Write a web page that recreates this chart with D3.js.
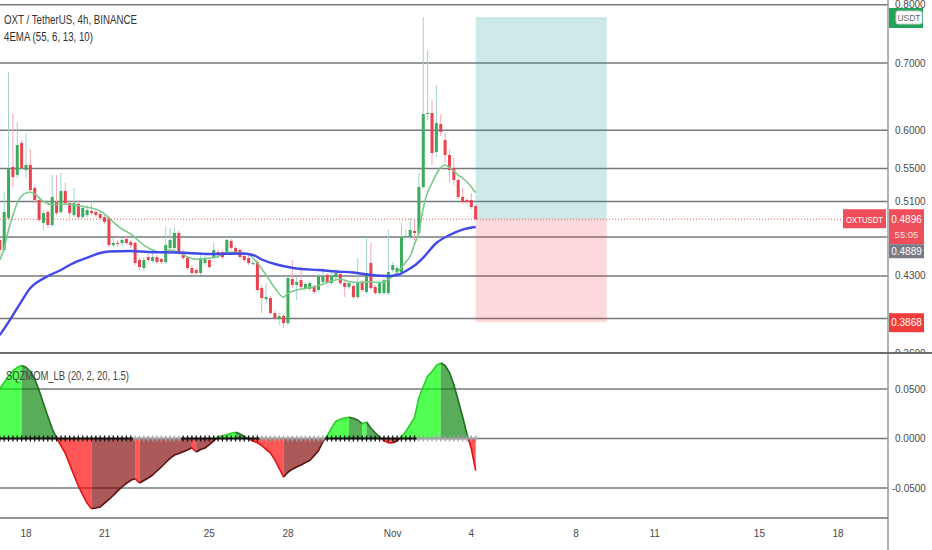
<!DOCTYPE html>
<html>
<head>
<meta charset="utf-8">
<script src="https://cdn.jsdelivr.net/npm/d3@7"></script>
<style>
  html, body { margin: 0; padding: 0; background: #fff; overflow: hidden; }
  svg { display: block; font-family: "Liberation Sans", Arial, sans-serif; }
</style>
</head>
<body>
<svg id="chart" width="932" height="550"></svg>
<script>
// OXT / USDT 4h candles, first bar Oct 17 00:00 UTC
const candleOpen = [0.4669,0.4563,0.4909,0.5518,0.5417,0.5829,0.5480,0.5543,0.5259,0.5116,
  0.4854,0.4977,0.4832,0.5093,0.4977,0.5223,0.5081,0.4943,0.5070,0.4920,
  0.4943,0.4989,0.4977,0.4954,0.4920,0.4909,0.4615,0.4637,0.4637,0.4679,
  0.4648,0.4637,0.4460,0.4379,0.4490,0.4450,0.4490,0.4470,0.4439,0.4584,
  0.4584,0.4744,0.4532,0.4480,0.4379,0.4359,0.4329,0.4429,0.4460,0.4490,
  0.4542,0.4542,0.4532,0.4658,0.4584,0.4563,0.4501,0.4480,0.4419,0.4439,
  0.4183,0.4078,0.4088,0.3950,0.3896,0.3923,0.3860,0.4270,0.4212,0.4260,
  0.4174,0.4174,0.4193,0.4164,0.4241,0.4309,0.4231,0.4289,0.4319,0.4231,
  0.4193,0.4203,0.4097,0.4241,0.4145,0.4429,0.4193,0.4135,0.4135,0.4135,
  0.4359,0.4339,0.4339,0.4701,0.4701,0.4766,0.4744,0.5271,0.6229,0.6243,
  0.5710,0.6088,0.5869,0.5671,0.5505,0.5356,0.5152,0.5116,0.5116,0.5046];
const candleHigh = [0.4711,0.5211,0.6857,0.6229,0.6116,0.5869,0.5951,0.5749,0.5283,0.5140,
  0.5000,0.5000,0.5417,0.5417,0.5442,0.5319,0.5116,0.5259,0.5116,0.5058,
  0.5058,0.5081,0.5012,0.4977,0.4943,0.4932,0.4690,0.4669,0.4690,0.4701,
  0.4669,0.4658,0.4480,0.4490,0.4521,0.4542,0.4511,0.4490,0.4810,0.4799,
  0.4810,0.4766,0.4563,0.4501,0.4409,0.4379,0.4511,0.4501,0.4480,0.4637,
  0.4573,0.4563,0.4711,0.4679,0.4605,0.4584,0.4521,0.4501,0.4450,0.4460,
  0.4212,0.4231,0.4107,0.3968,0.3950,0.3941,0.4299,0.4460,0.4289,0.4389,
  0.4241,0.4250,0.4212,0.4319,0.4379,0.4329,0.4339,0.4369,0.4339,0.4250,
  0.4250,0.4222,0.4480,0.4260,0.4701,0.4637,0.4212,0.4260,0.4280,0.4777,
  0.4439,0.4409,0.4854,0.4777,0.4909,0.4909,0.5442,0.7777,0.7211,0.6432,
  0.6656,0.6229,0.5964,0.5736,0.5633,0.5380,0.5259,0.5140,0.5199,0.5070];
const candleLow = [0.4501,0.4542,0.4880,0.5271,0.5380,0.5480,0.5380,0.5211,0.5093,0.4865,
  0.4777,0.4799,0.4810,0.4943,0.4954,0.5058,0.4920,0.4920,0.4898,0.4898,
  0.4920,0.4943,0.4920,0.4887,0.4843,0.4594,0.4594,0.4594,0.4605,0.4615,
  0.4584,0.4409,0.4359,0.4349,0.4439,0.4429,0.4419,0.4419,0.4419,0.4563,
  0.4563,0.4511,0.4460,0.4359,0.4309,0.4300,0.4309,0.4399,0.4369,0.4470,
  0.4480,0.4470,0.4511,0.4563,0.4511,0.4470,0.4439,0.4409,0.4399,0.4145,
  0.3950,0.4041,0.3932,0.3887,0.3843,0.3817,0.3843,0.4183,0.4069,0.4174,
  0.4155,0.4155,0.4126,0.4145,0.4222,0.4222,0.4212,0.4270,0.4212,0.4097,
  0.4174,0.4078,0.4078,0.4145,0.4126,0.4164,0.4116,0.4116,0.4116,0.4116,
  0.4339,0.4319,0.4319,0.4679,0.4679,0.4669,0.4722,0.5247,0.6144,0.5543,
  0.5645,0.5924,0.5569,0.5319,0.5295,0.5128,0.5070,0.5070,0.5012,0.4887];
const candleClose = [0.4563,0.4977,0.5505,0.5392,0.5802,0.5505,0.5543,0.5235,0.5116,0.4887,
  0.4966,0.4832,0.5152,0.4966,0.5223,0.5081,0.4966,0.5081,0.4920,0.5023,
  0.5000,0.4966,0.4943,0.4909,0.4865,0.4615,0.4637,0.4626,0.4669,0.4637,
  0.4615,0.4429,0.4389,0.4460,0.4460,0.4490,0.4439,0.4439,0.4615,0.4669,
  0.4744,0.4532,0.4480,0.4379,0.4329,0.4329,0.4480,0.4470,0.4389,0.4563,
  0.4511,0.4490,0.4669,0.4584,0.4532,0.4490,0.4460,0.4429,0.4429,0.4164,
  0.4088,0.4097,0.3950,0.3905,0.3923,0.3860,0.4280,0.4212,0.4241,0.4193,
  0.4222,0.4231,0.4145,0.4299,0.4299,0.4241,0.4299,0.4329,0.4231,0.4193,
  0.4231,0.4097,0.4241,0.4164,0.4329,0.4183,0.4135,0.4241,0.4260,0.4339,
  0.4409,0.4379,0.4701,0.4711,0.4777,0.4744,0.5271,0.6229,0.6243,0.5697,
  0.6102,0.5978,0.5671,0.5480,0.5356,0.5152,0.5093,0.5093,0.5035,0.4896];

// EMA lines (bar index, value)
const emaSlowIdx = [0,2,5,7,9,11,14,16,18,21,23,25,30,34,41,48,55,58,60,63,66,69,73,77,81,85,89,91,93,95,97,100,103,106,109];
const emaSlowVal = [0.3756,0.3869,0.4060,0.4183,0.4250,0.4299,0.4359,0.4409,0.4450,0.4501,
  0.4532,0.4547,0.4553,0.4542,0.4537,0.4521,0.4526,0.4511,0.4465,0.4419,
  0.4389,0.4369,0.4359,0.4344,0.4334,0.4309,0.4299,0.4309,0.4349,0.4404,
  0.4485,0.4637,0.4722,0.4782,0.4810];
const emaFastIdx = [0,1,2,3,4,5,6,7,8,10,12,15,19,23,24,26,28,30,33,35,37,39,41,43,45,47,50,
  52,55,57,59,61,63,65,66,68,70,73,75,78,80,82,85,87,89,91,93,94,95,96,97,98,99,100,
  101,102,103,104,105,106,107,108,109];
const emaFastVal = [0.4460,0.4584,0.4777,0.4943,0.5081,0.5164,0.5199,0.5207,0.5187,
  0.5099,0.5064,0.5070,0.5040,0.4989,0.4954,0.4865,0.4788,0.4733,
  0.4615,0.4563,0.4537,0.4563,0.4537,0.4490,0.4467,0.4475,0.4494,
  0.4542,0.4535,0.4516,0.4429,0.4309,0.4183,0.4097,0.4132,0.4164,
  0.4178,0.4207,0.4236,0.4267,0.4245,0.4236,0.4243,0.4234,0.4265,
  0.4334,0.4439,0.4501,0.4626,0.4755,0.5023,0.5211,0.5319,0.5430,
  0.5511,0.5543,0.5511,0.5467,0.5417,0.5380,0.5331,0.5271,0.5203];

// squeeze momentum value per bar
const momentum = [0.0502,0.0568,0.0631,0.0685,0.0718,0.0737,0.0720,0.0677,0.0601,0.0488,
  0.0354,0.0224,0.0101,0.0005,-0.0071,-0.0149,-0.0263,-0.0374,-0.0480,-0.0569,
  -0.0652,-0.0710,-0.0702,-0.0692,-0.0652,-0.0616,-0.0576,-0.0529,-0.0490,-0.0453,
  -0.0422,-0.0407,-0.0449,-0.0424,-0.0399,-0.0369,-0.0328,-0.0288,-0.0242,-0.0200,
  -0.0167,-0.0152,-0.0133,-0.0116,-0.0094,-0.0136,-0.0111,-0.0096,-0.0061,-0.0025,
  0.0017,0.0027,0.0038,0.0053,0.0063,0.0047,0.0020,-0.0006,-0.0026,-0.0043,
  -0.0071,-0.0109,-0.0148,-0.0215,-0.0303,-0.0389,-0.0341,-0.0310,-0.0288,-0.0267,
  -0.0244,-0.0222,-0.0175,-0.0124,-0.0033,0.0027,0.0108,0.0175,0.0194,0.0207,
  0.0214,0.0205,0.0187,0.0149,0.0167,0.0103,0.0058,0.0015,-0.0023,-0.0043,
  -0.0044,-0.0025,0.0020,0.0071,0.0141,0.0212,0.0414,0.0525,0.0631,0.0677,
  0.0737,0.0763,0.0737,0.0667,0.0545,0.0384,0.0222,0.0045,-0.0101,-0.0323];
// squeeze on/off runs (number of bars, on?)
const squeezeRuns = [[31, true], [11, false], [18, true], [15, false], [21, true], [14, false]];

const priceTicks = [0.80, 0.70, 0.60, 0.55, 0.51, 0.47, 0.43, 0.39, 0.36];
// labels at 0.47 and 0.39 sit under the price badges
const priceLabels = [0.80, 0.70, 0.60, 0.55, 0.51, 0.43, 0.36];
const momTicks = [0.05, 0, -0.05];
const timeTicks = [[2021,9,18],[2021,9,21],[2021,9,25],[2021,9,28],[2021,10,1],
  [2021,10,4],[2021,10,8],[2021,10,11],[2021,10,15],[2021,10,18]];

// position tool: target / entry / stop
const posTarget = 0.7760, posEntry = 0.4896, posStop = 0.3868;
const lastPrice = 0.4896, emaLabel = 0.4889;

// ---------------------------------------------------------------
const W = 932, H = 550, axisX = 888;
const mainBottom = 353, momTop = 354, momBottom = 518;
const gridColor = "#75787f", textColor = "#4a4a4a";

const BAR = 4 * 3600e3;
const t0 = Date.UTC(2021, 9, 17);
const barDate = i => new Date(t0 + i * BAR);

const x = d3.scaleUtc()
  .domain([Date.UTC(2021, 9, 18), Date.UTC(2021, 10, 4)])
  .range([26, 471.3]);
const y = d3.scaleLog().domain([0.80, 0.36]).range([4.65, 353.6]);
const ym = d3.scaleLinear().domain([-0.05, 0.05]).range([488, 389]);

const svg = d3.select("#chart");
const defs = svg.append("defs");
defs.append("clipPath").attr("id", "clip-main")
  .append("rect").attr("x", 0).attr("y", 0).attr("width", axisX).attr("height", mainBottom - 1);
defs.append("clipPath").attr("id", "clip-mom")
  .append("rect").attr("x", 0).attr("y", momTop).attr("width", axisX).attr("height", momBottom - momTop);
defs.append("clipPath").attr("id", "clip-axis")
  .append("rect").attr("x", axisX).attr("y", 0).attr("width", W - axisX).attr("height", mainBottom - 1);

svg.append("rect").attr("width", W).attr("height", H).attr("fill", "#fff");

// grid
const main = svg.append("g").attr("clip-path", "url(#clip-main)");
main.selectAll(".grid").data(priceTicks).enter().append("line")
  .attr("x1", 0).attr("x2", axisX)
  .attr("y1", d => y(d)).attr("y2", d => y(d))
  .attr("stroke", gridColor).attr("stroke-width", 1.5);

const mom = svg.append("g").attr("clip-path", "url(#clip-mom)");
mom.selectAll(".grid").data(momTicks).enter().append("line")
  .attr("x1", 0).attr("x2", axisX)
  .attr("y1", d => ym(d)).attr("y2", d => ym(d))
  .attr("stroke", gridColor).attr("stroke-width", 1.5);

// position box
const xa = x(barDate(109)), xb = x(new Date(barDate(109).getTime() + 30 * BAR));
main.append("rect")
  .attr("x", xa).attr("width", xb - xa)
  .attr("y", y(posTarget)).attr("height", y(posEntry) - y(posTarget))
  .attr("fill", "#26a69a").attr("fill-opacity", 0.23);
main.append("line")
  .attr("x1", xa).attr("x2", xb).attr("y1", y(posTarget)).attr("y2", y(posTarget))
  .attr("stroke", "#26a69a").attr("stroke-opacity", 0.25);
main.append("rect")
  .attr("x", xa).attr("width", xb - xa)
  .attr("y", y(posEntry)).attr("height", y(posStop) - y(posEntry))
  .attr("fill", "#f23645").attr("fill-opacity", 0.19);

// last price dotted line
main.append("line")
  .attr("x1", 0).attr("x2", 843)
  .attr("y1", y(lastPrice)).attr("y2", y(lastPrice))
  .attr("stroke", "#ef5350").attr("stroke-width", 1).attr("stroke-dasharray", "1,2");

// candles
const bars = d3.range(candleOpen.length).map(i => ({
  t: barDate(i), o: candleOpen[i], h: candleHigh[i], l: candleLow[i], c: candleClose[i]
}));
const candle = main.append("g").selectAll("g").data(bars).enter().append("g");
candle.append("line")
  .attr("x1", d => x(d.t)).attr("x2", d => x(d.t))
  .attr("y1", d => y(d.h)).attr("y2", d => y(d.l))
  .attr("stroke", d => d.c >= d.o ? "#a3d3ce" : "#f4a8b0").attr("stroke-width", 1);
candle.append("rect")
  .attr("x", d => x(d.t) - 1.5).attr("width", 3)
  .attr("y", d => y(Math.max(d.o, d.c)))
  .attr("height", d => Math.max(1, y(Math.min(d.o, d.c)) - y(Math.max(d.o, d.c))))
  .attr("fill", d => d.c >= d.o ? "#3dab5c" : "#ea4350");

// EMA lines
const emaLine = d3.line().curve(d3.curveMonotoneX).x(d => x(barDate(d[0]))).y(d => y(d[1]));
main.append("path")
  .datum(emaFastIdx.map((k, i) => [k, emaFastVal[i]]))
  .attr("d", emaLine).attr("fill", "none")
  .attr("stroke", "#7cc98c").attr("stroke-width", 1.6);
main.append("path")
  .datum(emaSlowIdx.map((k, i) => [k, emaSlowVal[i]]))
  .attr("d", emaLine).attr("fill", "none")
  .attr("stroke", "#4149e8").attr("stroke-width", 2.4);

// squeeze momentum area, coloured per segment
const fills = { lime: "rgba(0,255,0,0.68)", green: "rgba(0,128,0,0.65)", red: "rgba(255,0,0,0.66)", maroon: "rgba(128,0,0,0.65)" };
const edges = { lime: "#2ccc2c", green: "#1f6f1f", red: "#e01313", maroon: "#5e0e0e" };
const mx = i => x(barDate(i));
const pieces = [];
for (let i = 1; i < momentum.length; i++) {
  const v0 = momentum[i - 1], v1 = momentum[i];
  const rising = v1 > v0;
  const cPos = rising ? "lime" : "green", cNeg = rising ? "maroon" : "red";
  const x0 = mx(i - 1), x1 = mx(i);
  if ((v0 >= 0) === (v1 >= 0)) {
    pieces.push({ a: [x0, v0], b: [x1, v1], c: v1 >= 0 ? cPos : cNeg });
  } else {
    const xc = x0 + (x1 - x0) * (v0 / (v0 - v1));
    pieces.push({ a: [x0, v0], b: [xc, 0], c: v0 >= 0 ? cPos : cNeg });
    pieces.push({ a: [xc, 0], b: [x1, v1], c: v1 >= 0 ? cPos : cNeg });
  }
}
// join neighbouring pieces of one colour so the fill has no seams
const runs = [];
pieces.forEach(p => {
  const last = runs[runs.length - 1];
  if (last && last.c === p.c) last.pts.push(p.b);
  else runs.push({ c: p.c, pts: [p.a, p.b] });
});
mom.append("g").selectAll("path").data(runs).enter().append("path")
  .attr("d", d => {
    const top = d.pts.map(p => `${p[0]},${ym(p[1])}`).join("L");
    return `M${d.pts[0][0]},${ym(0)}L${top}L${d.pts[d.pts.length - 1][0]},${ym(0)}Z`;
  })
  .attr("fill", d => fills[d.c]);
mom.append("g").selectAll("path").data(runs).enter().append("path")
  .attr("d", d => "M" + d.pts.map(p => `${p[0]},${ym(p[1])}`).join("L"))
  .attr("fill", "none")
  .attr("stroke", d => edges[d.c]).attr("stroke-width", 1.6).attr("stroke-linejoin", "round");

// squeeze crosses on the zero line
const squeeze = [];
squeezeRuns.forEach(([n, on]) => { for (let k = 0; k < n; k++) squeeze.push(on); });
const cross = mom.append("g").selectAll("g").data(squeeze).enter().append("g")
  .attr("stroke", d => d ? "#111" : "#a3a3a3");
cross.append("line")
  .attr("x1", (d, i) => mx(i) - 2.2).attr("x2", (d, i) => mx(i) + 2.2)
  .attr("y1", ym(0)).attr("y2", ym(0)).attr("stroke-width", 2);
cross.append("line")
  .attr("x1", (d, i) => mx(i)).attr("x2", (d, i) => mx(i))
  .attr("y1", ym(0) - 3).attr("y2", ym(0) + 3).attr("stroke-width", 1.3);

// frame lines
svg.append("line").attr("x1", axisX).attr("x2", axisX).attr("y1", 0).attr("y2", H)
  .attr("stroke", "#9a9a9a").attr("stroke-width", 1.5);
svg.append("line").attr("x1", 0).attr("x2", W).attr("y1", mainBottom).attr("y2", mainBottom)
  .attr("stroke", "#6f6f6f").attr("stroke-width", 2);
svg.append("line").attr("x1", 0).attr("x2", axisX).attr("y1", momBottom).attr("y2", momBottom)
  .attr("stroke", "#6f6f6f").attr("stroke-width", 1.5);

// price axis labels
const paxis = svg.append("g").attr("clip-path", "url(#clip-axis)")
  .attr("font-size", 10).attr("fill", textColor);
paxis.selectAll("text").data(priceLabels).enter().append("text")
  .attr("x", 895).attr("y", d => y(d) + 3.5)
  .text(d => d3.format(".4f")(d));

svg.append("g").attr("font-size", 10).attr("fill", textColor)
  .selectAll("text").data(momTicks).enter().append("text")
  .attr("x", d => d < 0 ? 892 : 895).attr("y", d => ym(d) + 3.5)
  .text(d => d3.format(".4f")(d).replace("−", "-"));

// time axis
const fmtTick = d => d.getUTCDate() === 1 ? d3.utcFormat("%b")(d) : String(d.getUTCDate());
svg.append("g").attr("font-size", 10).attr("fill", textColor).attr("text-anchor", "middle")
  .selectAll("text").data(timeTicks.map(t => new Date(Date.UTC(t[0], t[1], t[2])))).enter().append("text")
  .attr("x", d => x(d)).attr("y", 537)
  .text(fmtTick);

// axis badges
const badge = svg.append("g").attr("font-size", 10).attr("text-anchor", "middle");
badge.append("rect").attr("x", 889).attr("y", 8).attr("width", 34).attr("height", 20).attr("fill", "#22a35a");
badge.append("rect").attr("x", 896).attr("y", 11).attr("width", 26).attr("height", 13).attr("rx", 2)
  .attr("fill", "#fff").attr("stroke", "#d0d0d0");
badge.append("text").attr("x", 909).attr("y", 21).attr("font-size", 8.5).attr("fill", "#666").text("USDT");

const yl = y(lastPrice);
badge.append("rect").attr("x", 843).attr("y", yl - 10).attr("width", 43).attr("height", 19).attr("fill", "#ee4d5a");
badge.append("text").attr("x", 864.5).attr("y", yl + 3.5).attr("fill", "#fff").attr("font-size", 9.5)
  .attr("textLength", 37).attr("lengthAdjust", "spacingAndGlyphs").text("OXTUSDT");
badge.append("rect").attr("x", 889).attr("y", yl - 10).attr("width", 35).attr("height", 35).attr("fill", "#ee4d5a");
badge.append("text").attr("x", 906.5).attr("y", yl + 3.5).attr("fill", "#fff").text(d3.format(".4f")(lastPrice));
badge.append("text").attr("x", 906.5).attr("y", yl + 19).attr("fill", "#fde0e2").attr("font-size", 9.5).text("55:05");
badge.append("rect").attr("x", 889).attr("y", yl + 25).attr("width", 35).attr("height", 14).attr("fill", "#787b86");
badge.append("text").attr("x", 906.5).attr("y", yl + 35.5).attr("fill", "#fff").text(d3.format(".4f")(emaLabel));

const ys = y(posStop);
badge.append("rect").attr("x", 889).attr("y", ys - 9).attr("width", 35).attr("height", 19).attr("fill", "#f23b3b");
badge.append("text").attr("x", 906.5).attr("y", ys + 4).attr("fill", "#fff").text(d3.format(".4f")(posStop));

// titles
const title = svg.append("g").attr("fill", "#333");
title.append("text").attr("x", 4).attr("y", 24).attr("font-size", 12)
  .attr("textLength", 133).attr("lengthAdjust", "spacingAndGlyphs")
  .text("OXT / TetherUS, 4h, BINANCE");
title.append("text").attr("x", 4).attr("y", 41).attr("font-size", 12)
  .attr("textLength", 89).attr("lengthAdjust", "spacingAndGlyphs")
  .text("4EMA (55, 6, 13, 10)");
title.append("text").attr("x", 6).attr("y", 380).attr("font-size", 12).attr("fill", "#444")
  .attr("textLength", 123).attr("lengthAdjust", "spacingAndGlyphs")
  .text("SQZMOM_LB (20, 2, 20, 1.5)");
</script>
</body>
</html>
